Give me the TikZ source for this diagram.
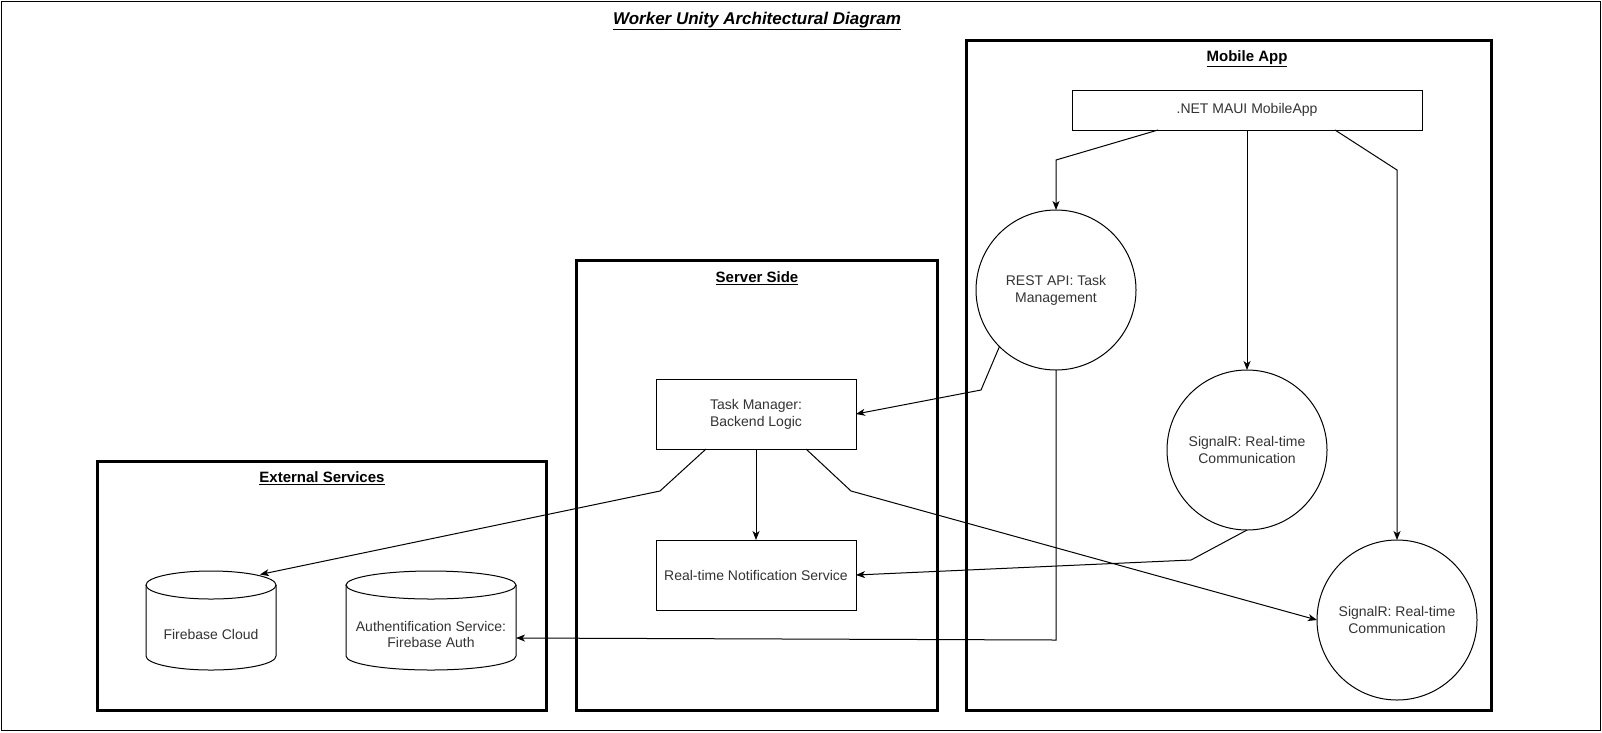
\documentclass[tikz,border=0pt]{standalone}
\usepackage{fontspec}
\setmainfont{Liberation Sans}
\usetikzlibrary{positioning,arrows.meta}
\definecolor{txtgray}{HTML}{333333}
% cylinder outline round a named node: name, x radius
\newcommand\dbOutline[2]{%
  \draw[line width=1pt] ([yshift=14pt]#1.north west) -- ([yshift=14pt]#1.south west)
    arc[start angle=180, end angle=360, x radius=#2pt, y radius=14pt] -- ([yshift=14pt]#1.north east);
  \draw[line width=1pt] ([yshift=14pt]#1.north) ellipse [x radius=#2pt, y radius=14pt];}

\begin{document}
\begin{tikzpicture}[x=1pt,y=-1pt,
    every node/.style={font=\fontsize{14}{16.8}\selectfont, text=txtgray, align=center},
    group/.style={draw, line width=3pt},
    grouptitle/.style={font=\bfseries\fontsize{15}{18}\selectfont, text=black},
    box/.style={draw, fill=white, line width=1pt, minimum width=200pt, minimum height=70pt, outer sep=0pt},
    bubble/.style={draw, fill=white, circle, line width=1pt, minimum size=160pt, inner sep=0pt, outer sep=0pt},
    store/.style={minimum height=71pt, inner sep=0pt, outer sep=0pt},
    link/.style={line width=1pt, -{Stealth[length=9pt,width=7pt,inset=2.5pt]}}]
    \useasboundingbox (0,0) rectangle (1602,732);
    \draw[line width=1pt] (1.5,1.5) rectangle (1600,730);
    \node[font=\bfseries\itshape\fontsize{17}{20}\selectfont, text=black] (title) at (757,21) {\underline{Worker Unity Architectural Diagram}};

    % groups
    \draw[group] (97,461) rectangle (546,710);
    \node[grouptitle] (exttitle) at (322,478) {\underline{External Services}};
    \draw[group] (576,260) rectangle (937,710);
    \node[grouptitle] (srvtitle) at (757,278) {\underline{Server Side}};
    \draw[group] (966,40) rectangle (1491,710);
    \node[grouptitle] (apptitle) at (1247,59) {\underline{Mobile App}};

    % mobile app
    \node[box, minimum width=350pt, minimum height=40pt] (maui) at (1247,110) {.NET MAUI MobileApp};
    \node[bubble] (rest) at (1056,290) {REST API: Task\\Management};
    \node[bubble] (sig1) at (1247,450) {SignalR: Real-time\\Communication};
    \node[bubble] (sig2) at (1397,620) {SignalR: Real-time\\Communication};

    % server side
    \node[box] (tm) at (756,414) {Task Manager:\\Backend Logic};
    \node[box] (notif) at (756,575) {Real-time Notification Service};

    % external services
    \node[store, minimum width=130pt] (fbcloud) at (211,634.5) {Firebase Cloud};
    \dbOutline{fbcloud}{65}
    \node[store, minimum width=170pt] (auth) at (431,634.5) {Authentification Service:\\Firebase Auth};
    \dbOutline{auth}{85}

    % connectors
    \coordinate (m1) at (1056,160);
    \coordinate (m2) at (1397,170);
    \coordinate (r1) at (981,390);
    \coordinate (r2) at (1056,640);
    \coordinate (s1) at (1191,560);
    \coordinate (t1) at (660,491);
    \coordinate (t2) at (851,491);
    \draw[link] ([xshift=-89pt]maui.south) -- (m1) -- (rest.north);
    \draw[link] (maui.south) -- (sig1.north);
    \draw[link] ([xshift=88pt]maui.south) -- (m2) -- (sig2.north);
    \draw[link] (rest.225) -- (r1) -- (tm.east);
    \draw[link] (rest.south) -- (r2) -- ([yshift=-3.5pt]auth.east);
    \draw[link] (sig1.south) -- (s1) -- (notif.east);
    \draw[link] (tm.south) -- (notif.north);
    \draw[link] ([xshift=-50pt]tm.south) -- (t1) -- ([xshift=49pt,yshift=24.5pt]fbcloud.north);
    \draw[link] ([xshift=50pt]tm.south) -- (t2) -- (sig2.west);
\end{tikzpicture}
\end{document}
